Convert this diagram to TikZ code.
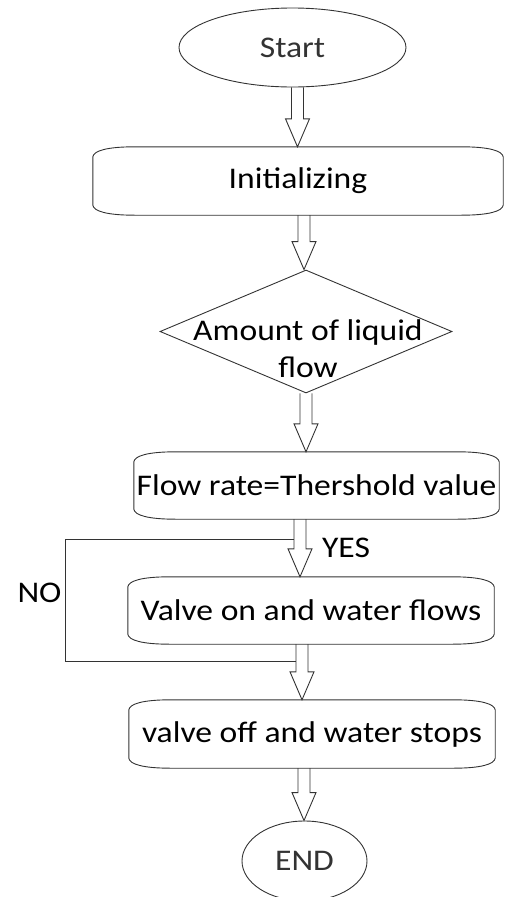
\documentclass[tikz,border=0pt]{standalone}
\usepackage{fontspec}
\setmainfont[FakeStretch=1.12]{Carlito}
\usetikzlibrary{shapes.geometric,calc}

% hollow block arrow at x=#1 from node #2 down to node #3
\newcommand{\blockarrow}[3]{%
  \draw[ln] let \p1 = (#2.south), \p2 = (#3.north) in
    (#1pt-6pt,\y1) -- (#1pt-6pt,\y2+28pt) -- (#1pt-12pt,\y2+28pt) -- (#1pt,\y2)
    -- (#1pt+12pt,\y2+28pt) -- (#1pt+6pt,\y2+28pt) -- (#1pt+6pt,\y1);}

\begin{document}
\begin{tikzpicture}[x=1pt, y=-1pt,
    every node/.style={font=\fontsize{30}{37}\selectfont, text=black},
    ln/.style={line width=0.9pt, black!80},
    term/.style={ellipse, draw, ln, inner sep=0pt},
    proc/.style={rectangle, inner sep=0pt, minimum height=67pt},
    dec/.style={diamond, draw, ln, inner sep=0pt, minimum width=292pt, minimum height=123pt},
    lbl/.style={inner sep=0pt},
  ]
  \useasboundingbox (0,0) rectangle (504,897);
  \node[term, minimum width=227pt, minimum height=79pt] (start) at (292.5,47.5) {Start};
  \node[proc, minimum width=410pt, minimum height=68pt] (init) at (298,181) {Initializing};
  \node[dec] (amt) at (306,331.5) {};
  \node[lbl, align=center] (amttxt) at (308,349) {Amount of liquid\\flow};
  \node[proc, minimum width=365pt] (rate) at (316.5,485.5) {Flow rate=Thershold value};
  \node[proc, minimum width=366pt] (von) at (311,610.5) {Valve on and water flows};
  \node[proc, minimum width=366pt, minimum height=68pt] (voff) at (312,734) {valve off and water stops};
  \node[term, minimum width=125pt, minimum height=80pt] (end) at (304.5,861) {END};
  \node[lbl] (yes) at (346,548) {YES};
  \node[lbl] (no) at (39.5,592.5) {NO};

  % process boxes with curved corners
  \foreach \n in {init,rate,von,voff}{
    \draw[ln] ([yshift=-10pt]\n.north west)
      .. controls ([xshift=1pt,yshift=-4pt]\n.north west) and ([xshift=14pt]\n.north west) .. ([xshift=42pt]\n.north west)
      -- ([xshift=-42pt]\n.north east)
      .. controls ([xshift=-14pt]\n.north east) and ([xshift=-1pt,yshift=-4pt]\n.north east) .. ([yshift=-10pt]\n.north east)
      -- ([yshift=10pt]\n.south east)
      .. controls ([xshift=-1pt,yshift=4pt]\n.south east) and ([xshift=-14pt]\n.south east) .. ([xshift=-42pt]\n.south east)
      -- ([xshift=42pt]\n.south west)
      .. controls ([xshift=14pt]\n.south west) and ([xshift=1pt,yshift=4pt]\n.south west) .. ([yshift=10pt]\n.south west)
      -- cycle;
  }

  \blockarrow{297.5}{start}{init}
  \blockarrow{304}{init}{amt}
  \blockarrow{306}{amt}{rate}
  \blockarrow{300}{rate}{von}
  \blockarrow{302}{von}{voff}
  \blockarrow{304}{voff}{end}

  % NO loop
  \coordinate (yesL) at (294,539);
  \coordinate (noR) at (296,661);
  \draw[ln] (yesL) -| (65,661) -- (noR);
\end{tikzpicture}
\end{document}
